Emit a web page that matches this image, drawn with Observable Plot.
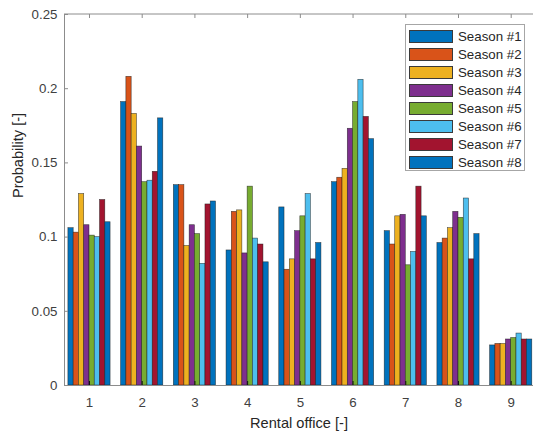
<!DOCTYPE html>
<html><head><meta charset="utf-8">
<script src="https://cdn.jsdelivr.net/npm/d3@7"></script>
<script src="https://cdn.jsdelivr.net/npm/@observablehq/plot@0.6"></script>
<style>
body{margin:0;background:#fff;}
#wrap{position:relative;width:533px;height:432px;font-family:"Liberation Sans",Arial,sans-serif;overflow:hidden;}
#legend{position:absolute;left:405px;top:24px;width:120px;height:147px;border:1px solid #a6a6a6;background:#fff;box-sizing:border-box;}
.entry{position:absolute;left:3px;height:13px;}
.sw{position:absolute;left:0;top:0;width:44px;height:13px;box-sizing:border-box;border:1px solid #3a3a3a;}
.lab{position:absolute;left:49px;top:-1px;font-size:13.3px;line-height:15px;color:#262626;white-space:nowrap;}
</style></head><body><div id="wrap"></div>
<script>
const offices = [1, 2, 3, 4, 5, 6, 7, 8, 9];
const seasons = ["Season #1", "Season #2", "Season #3", "Season #4", "Season #5", "Season #6", "Season #7", "Season #8"];
const colors = ["#0072BD", "#D95319", "#EDB120", "#7E2F8E", "#77AC30", "#4DBEEE", "#A2142F", "#0072BD"];
const season1 = [0.106, 0.191, 0.135, 0.091, 0.120, 0.137, 0.104, 0.096, 0.027];
const season2 = [0.103, 0.208, 0.135, 0.117, 0.078, 0.140, 0.095, 0.099, 0.028];
const season3 = [0.129, 0.183, 0.094, 0.118, 0.085, 0.146, 0.114, 0.106, 0.028];
const season4 = [0.108, 0.161, 0.108, 0.089, 0.104, 0.173, 0.115, 0.117, 0.031];
const season5 = [0.101, 0.137, 0.102, 0.134, 0.114, 0.191, 0.081, 0.113, 0.032];
const season6 = [0.100, 0.138, 0.082, 0.099, 0.129, 0.206, 0.090, 0.126, 0.035];
const season7 = [0.125, 0.144, 0.122, 0.095, 0.085, 0.181, 0.134, 0.085, 0.031];
const season8 = [0.110, 0.180, 0.124, 0.083, 0.096, 0.166, 0.114, 0.102, 0.031];
const yTicks = [0, 0.05, 0.1, 0.15, 0.2, 0.25];
const xLabel = "Rental office [-]";
const yLabel = "Probability [-]";

const series = [season1, season2, season3, season4, season5, season6, season7, season8];
const rows = [];
series.forEach((vals, si) => vals.forEach((v, oi) => rows.push({
  office: offices[oi], season: seasons[si], si, value: v
})));
const slot = 0.8 / seasons.length;

const W = 533, H = 432, mL = 64, mR = 0, mT = 14, mB = 47;
const innerW = W - mL - mR, innerH = H - mT - mB;
const axisColor = "#8c8c8c";

const chart = Plot.plot({
  width: W, height: H,
  marginLeft: mL, marginRight: mR, marginTop: mT, marginBottom: mB,
  style: {fontFamily: '"Liberation Sans", Arial, sans-serif', fontSize: "13.3px", background: "#fff", color: "#404040"},
  x: {type: "linear", domain: [0.526, 9.423]},
  y: {domain: [0, 0.25]},
  color: {domain: seasons, range: colors},
  marks: [
    Plot.rect(rows, {
      x1: d => d.office - 0.4 + d.si * slot,
      x2: d => d.office - 0.4 + (d.si + 1) * slot,
      y1: 0, y2: "value",
      fill: "season", stroke: "#1a1a1a", strokeWidth: 0.6, strokeOpacity: 0.75
    }),
    Plot.ruleY([0], {stroke: axisColor}),
    Plot.ruleY([0.25], {stroke: axisColor, dy: -0.5}),
    Plot.ruleX([0.526], {stroke: axisColor}),
    Plot.tickY(yTicks, {y: d => d, stroke: axisColor, insetRight: innerW - 4}),
    Plot.tickX(offices, {x: d => d, stroke: axisColor, insetBottom: innerH - 4}),
    Plot.tickX(offices, {x: d => d, stroke: "#111", insetTop: innerH - 4}),
    Plot.axisY(yTicks, {tickSize: 0, tickPadding: 7, label: null, tickFormat: d => String(d), fill: "#404040", fontSize: 13.3}),
    Plot.axisX(offices, {tickSize: 0, tickPadding: 12, label: null, tickFormat: d => String(d), fill: "#404040", fontSize: 13.3}),
    Plot.text([xLabel], {frameAnchor: "bottom", lineAnchor: "top", dy: 32, fontSize: 14.6, fill: "#262626"}),
    Plot.text([yLabel], {frameAnchor: "left", rotate: -90, lineAnchor: "top", dx: -52, dy: -2, fontSize: 14.6, fill: "#262626"})
  ]
});
const wrap = document.getElementById("wrap");
wrap.appendChild(chart);

const legend = d3.select(wrap).append("div").attr("id", "legend");
seasons.forEach((s, i) => {
  const e = legend.append("div").attr("class", "entry").style("top", (4.5 + i * 18.1) + "px");
  e.append("div").attr("class", "sw").style("background", colors[i]);
  e.append("div").attr("class", "lab").text(s);
});
</script></body></html>
